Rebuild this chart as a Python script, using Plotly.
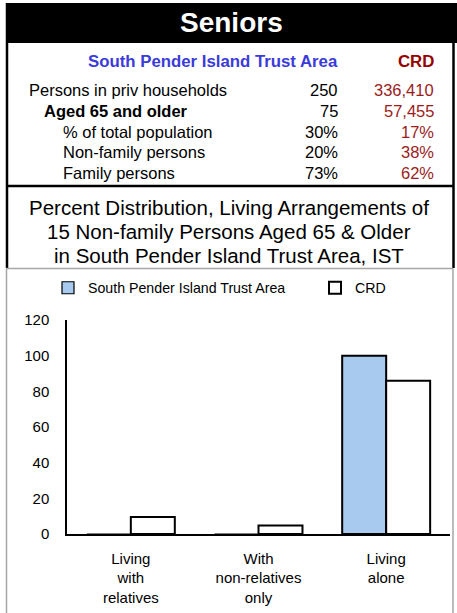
import plotly.graph_objects as go

W, H = 457, 613

# ---- data ----
categories = ["Living<br>with<br>relatives", "With<br>non-relatives<br>only", "Living<br>alone"]
sp_values = [0, 0, 100]
crd_values = [9.5, 4.7, 86]
series_names = ["South Pender Island Trust Area", "CRD"]
y_ticks = [0, 20, 40, 60, 80, 100, 120]
y_tick_labels = ["0", "20", "40", "60", "80", "100", "120"]

table_labels = ["Persons in priv households", "Aged 65 and older", "% of total population",
                "Non-family persons", "Family persons"]
table_sp = ["250", "75", "30%", "20%", "73%"]
table_crd = ["336,410", "57,455", "17%", "38%", "62%"]
title_lines = ["Percent Distribution, Living Arrangements of",
               "15 Non-family Persons Aged 65 & Older",
               "in South Pender Island Trust Area, IST"]

FONT = "Liberation Sans, Arial, sans-serif"
BLUE_TXT = "#3b3bd9"
RED_HDR = "#960000"
RED_VAL = "#9a1c1c"


def px(x):
    return x / W


def py(y):
    return 1 - y / H


# thin outline on empty bars so it hides under the axis line
sp_outline = [2 if v > 0 else 1.2 for v in sp_values]

fig = go.Figure()
fig.add_trace(go.Bar(x=categories, y=sp_values, name=series_names[0], legend="legend",
                     marker=dict(color="#a8caee", line=dict(color="black", width=sp_outline))))
fig.add_trace(go.Bar(x=categories, y=crd_values, name=series_names[1], legend="legend2",
                     marker=dict(color="white", line=dict(color="black", width=2))))


def line(x0, y0, x1, y1, color, width):
    return dict(type="line", xref="paper", yref="paper", x0=px(x0), x1=px(x1), y0=py(y0), y1=py(y1),
                line=dict(color=color, width=width))


shapes = []
shapes.append(dict(type="rect", xref="paper", yref="paper", x0=px(6), x1=px(457), y0=py(43), y1=py(3),
                   fillcolor="black", line=dict(width=0), layer="below"))
shapes.append(line(7, 3, 7, 268, "black", 2.5))
shapes.append(line(453.5, 40, 453.5, 268, "black", 2.5))
shapes.append(line(7, 186, 453.5, 186, "black", 2.5))
GRAY = "#a6a6a6"
shapes.append(line(6.5, 268.5, 453, 268.5, GRAY, 1.5))
shapes.append(line(6.5, 268.5, 6.5, 613, GRAY, 1.5))
shapes.append(line(453, 268.5, 453, 613, GRAY, 1.5))

annotations = []
annotations.append(dict(text="<b>Seniors</b>", x=px(231), y=py(22), xref="paper", yref="paper",
                        showarrow=False, font=dict(family=FONT, size=28, color="white"),
                        xanchor="center", yanchor="middle"))
annotations.append(dict(text="<b>South Pender Island Trust Area</b>", x=px(339.5), y=py(62),
                        xref="paper", yref="paper", showarrow=False,
                        font=dict(family=FONT, size=16.8, color=BLUE_TXT), xanchor="right", yanchor="middle"))
annotations.append(dict(text="<b>CRD</b>", x=px(435.5), y=py(62), xref="paper", yref="paper", showarrow=False,
                        font=dict(family=FONT, size=16.8, color=RED_HDR), xanchor="right", yanchor="middle"))

row_y = [90, 111, 131.5, 152, 173]
row_x = [27, 42, 61, 61, 61]
for i, lab in enumerate(table_labels):
    t = f"<b>{lab}</b>" if i == 1 else lab
    annotations.append(dict(text=t, x=px(row_x[i]), y=py(row_y[i]), xref="paper", yref="paper",
                            showarrow=False, font=dict(family=FONT, size=16.5, color="black"),
                            xanchor="left", yanchor="middle"))
    annotations.append(dict(text=table_sp[i], x=px(339.5), y=py(row_y[i]), xref="paper", yref="paper",
                            showarrow=False, font=dict(family=FONT, size=16.5, color="black"),
                            xanchor="right", yanchor="middle"))
    annotations.append(dict(text=table_crd[i], x=px(435.5), y=py(row_y[i]), xref="paper", yref="paper",
                            showarrow=False, font=dict(family=FONT, size=16.5, color=RED_VAL),
                            xanchor="right", yanchor="middle"))

title_y = [207, 231.5, 256]
for ln, yy in zip(title_lines, title_y):
    annotations.append(dict(text=ln, x=px(229.5), y=py(yy), xref="paper", yref="paper", showarrow=False,
                            font=dict(family=FONT, size=20.5, color="black"),
                            xanchor="center", yanchor="middle"))

leg_common = dict(orientation="h", xanchor="left", yanchor="top",
                  font=dict(family=FONT, size=14.2, color="black"),
                  bgcolor="rgba(0,0,0,0)", itemwidth=30)

fig.update_layout(
    width=W, height=H,
    margin=dict(l=0, r=0, t=0, b=0, autoexpand=False),
    paper_bgcolor="white", plot_bgcolor="white",
    font=dict(family=FONT, color="black"),
    barmode="group", bargap=0.311, bargroupgap=0,
    showlegend=True,
    legend=dict(x=px(48), y=py(272), **leg_common),
    legend2=dict(x=px(315), y=py(272), **leg_common),
    xaxis=dict(domain=[px(67), px(450)], showline=True, linecolor="black", linewidth=1.5,
               ticks="", showgrid=False, zeroline=False, automargin=False, layer="above traces",
               tickfont=dict(family=FONT, size=15, color="black"), ticklabelstandoff=10,
               fixedrange=True),
    yaxis=dict(domain=[py(534), py(320)], range=[0, 120], tickvals=y_ticks, ticktext=y_tick_labels,
               showline=True, linecolor="black", linewidth=1.5, ticks="", showgrid=False,
               zeroline=False, automargin=False, layer="above traces",
               tickfont=dict(family=FONT, size=15, color="black"), ticklabelstandoff=13,
               fixedrange=True),
    shapes=shapes,
    annotations=annotations,
)

fig.write_html("out.html", config={"displayModeBar": False},
               post_script="document.body.style.margin='0';document.body.style.overflow='hidden';")
